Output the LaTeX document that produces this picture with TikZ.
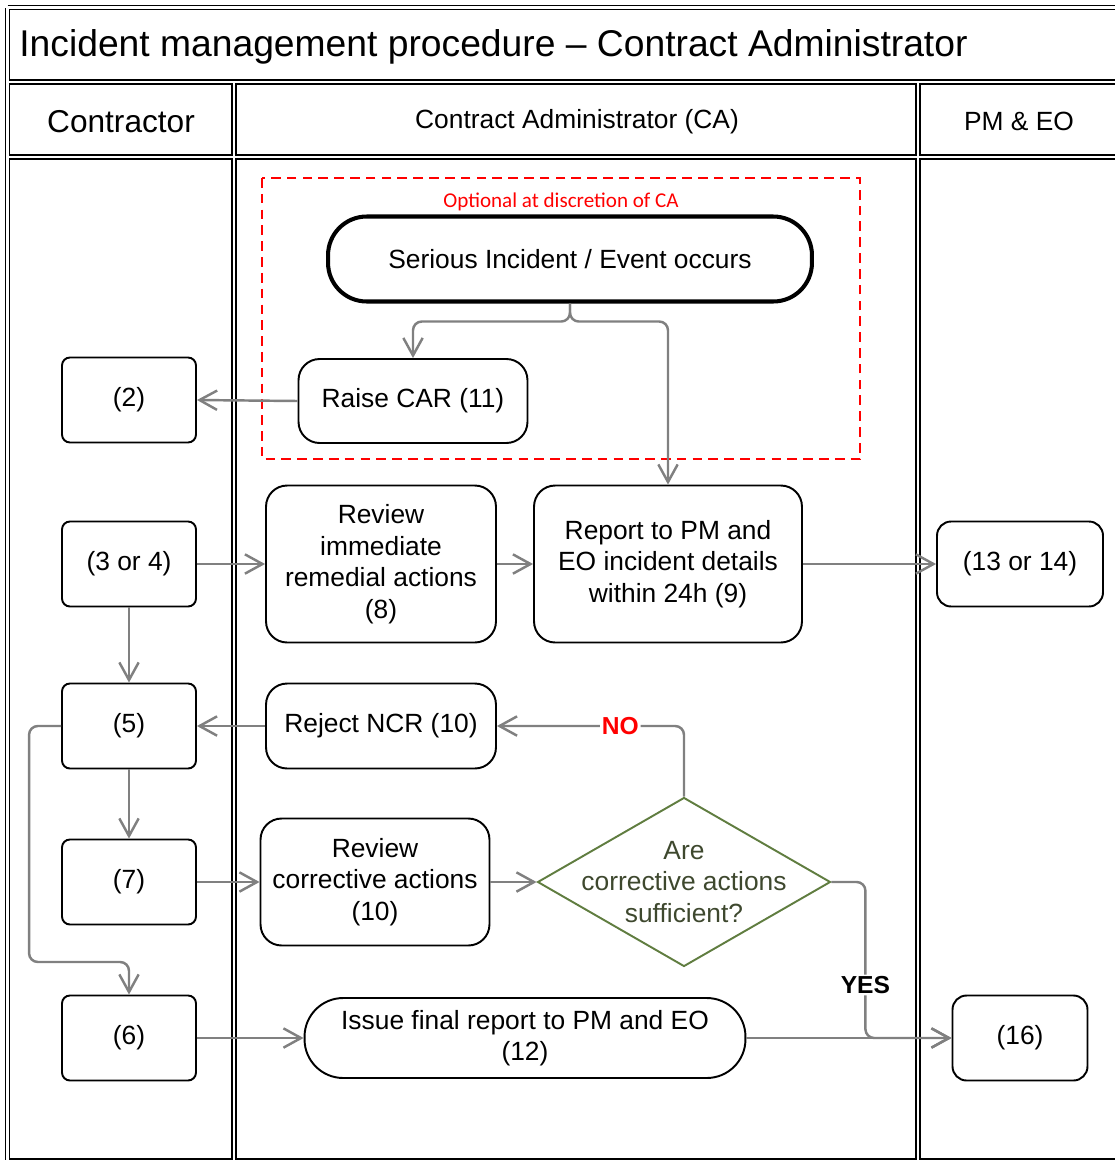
\documentclass[tikz,border=0pt]{standalone}
\usepackage{fontspec}
\setmainfont{Liberation Sans}
\newfontfamily\carlito{Carlito}
\usetikzlibrary{arrows.meta,shapes.geometric}
\definecolor{flowgray}{RGB}{128,128,128}
\definecolor{decisiongreen}{RGB}{96,125,64}
\definecolor{decisiontext}{RGB}{62,72,46}

\begin{document}
\begin{tikzpicture}[x=0.02cm,y=-0.02cm,
  rule/.style={line width=0.9pt,double,double distance=1.5pt},
  txt/.style={font=\fontsize{15}{18}\selectfont,align=center,inner sep=0pt},
  ref/.style={txt,draw,line width=1.1pt,rounded corners=4.5pt,minimum width=2.68cm,minimum height=1.7cm},
  task/.style={txt,draw,line width=1.1pt,rounded corners=12pt},
  term/.style={txt,draw,rounded corners=22pt},
  flow/.style={draw=flowgray,line width=1.4pt,rounded corners=5pt,-{Straight Barb[length=10pt,width=11pt]}},
  answer/.style={fill=white,font=\fontsize{14}{16}\bfseries\selectfont,inner sep=1pt}]
  \useasboundingbox (0,0) rectangle (1115,1160);

  % table frame
  \draw[rule] (7.5,7.5) -- (1122,7.5)
    (7.5,7.5) -- (7.5,1163)
    (7.5,82) -- (1122,82)
    (7.5,157) -- (1122,157)
    (234,82) -- (234,1163)
    (918,82) -- (918,1163)
    (7.5,1161) -- (1122,1161);

  % title and lane headers
  \node[anchor=west,font=\fontsize{21.2}{24}\selectfont,inner sep=0pt] (title) at (19,47)
    {Incident management procedure -- Contract Administrator};
  \node[font=\fontsize{18}{20}\selectfont] (contractor) at (121,122) {Contractor};
  \node[txt] (calane) at (577,122) {Contract Administrator (CA)};
  \node[txt] (pmeolane) at (1019,121) {PM \& EO};

  % optional part
  \draw[red,line width=1.1pt,dash pattern=on 5.5pt off 3.5pt] (262,178) rectangle (860,459);
  \node[text=red,font=\carlito\fontsize{12}{14}\selectfont] (optional) at (561,202)
    {Optional at discretion of CA};

  % contractor lane
  \node[ref] (c2) at (129,400) {(2)};
  \node[ref] (c34) at (129,564) {(3 or 4)};
  \node[ref] (c5) at (129,726) {(5)};
  \node[ref] (c7) at (129,882) {(7)};
  \node[ref] (c6) at (129,1038) {(6)};

  % contract administrator lane
  \node[term,line width=2.3pt,minimum width=9.68cm,minimum height=1.7cm] (start) at (570,259)
    {Serious Incident / Event occurs};
  \node[task,minimum width=4.58cm,minimum height=1.68cm] (raise) at (413,401) {Raise CAR (11)};
  \node[task,minimum width=4.6cm,minimum height=3.14cm] (review8) at (381,564)
    {Review\\immediate\\remedial actions\\(8)};
  \node[task,minimum width=5.36cm,minimum height=3.14cm] (report) at (668,564)
    {Report to PM and\\EO incident details\\within 24h (9)};
  \node[task,minimum width=4.6cm,minimum height=1.7cm] (reject) at (381,726) {Reject NCR (10)};
  \node[task,minimum width=4.58cm,minimum height=2.54cm] (review10) at (375,882)
    {Review\\corrective actions\\(10)};
  \node[diamond,draw=decisiongreen,line width=1.1pt,inner sep=0pt,
    minimum width=5.86cm,minimum height=3.38cm,
    label={[txt,text=decisiontext]center:Are\\corrective actions\\sufficient?}] (check) at (684,882) {};
  \node[term,line width=1.1pt,minimum width=8.82cm,minimum height=1.6cm] (final) at (525,1038)
    {Issue final report to PM and EO\\(12)};

  % PM & EO lane
  \node[ref,rounded corners=8pt,minimum width=3.32cm] (c1314) at (1020,564) {(13 or 14)};
  \node[ref,rounded corners=8pt,minimum width=2.7cm] (c16) at (1020,1038) {(16)};

  % connectors
  \draw[flow] (start.south) -- ++(0,18) -| (raise.north);
  \draw[flow] (start.south) -- ++(0,18) -| (report.north);
  \draw[flow] (raise.west) -- (c2.east);
  \draw[flow] (c34.east) -- (review8.west);
  \draw[flow] (review8.east) -- (report.west);
  \draw[flow] (report.east) -- (c1314.west);
  \draw[flow] (c34.south) -- (c5.north);
  \draw[flow] (reject.west) -- (c5.east);
  \draw[flow] (check.north) |- node[answer,text=red,pos=0.67] (no) {NO} (reject.east);
  \draw[flow] (c5.south) -- (c7.north);
  \draw[flow] (c5.west) -- ++(-32,0) -- ++(0,236) -| (c6.north);
  \draw[flow] (c7.east) -- (review10.west);
  \draw[flow] (review10.east) -- (check.west);
  \draw[flow] (check.east) -- ++(34,0) |- node[answer,pos=0.33] (yes) {YES} (c16.west);
  \draw[flow] (c6.east) -- (final.west);
  \draw[flow] (final.east) -- (c16.west);
\end{tikzpicture}
\end{document}
